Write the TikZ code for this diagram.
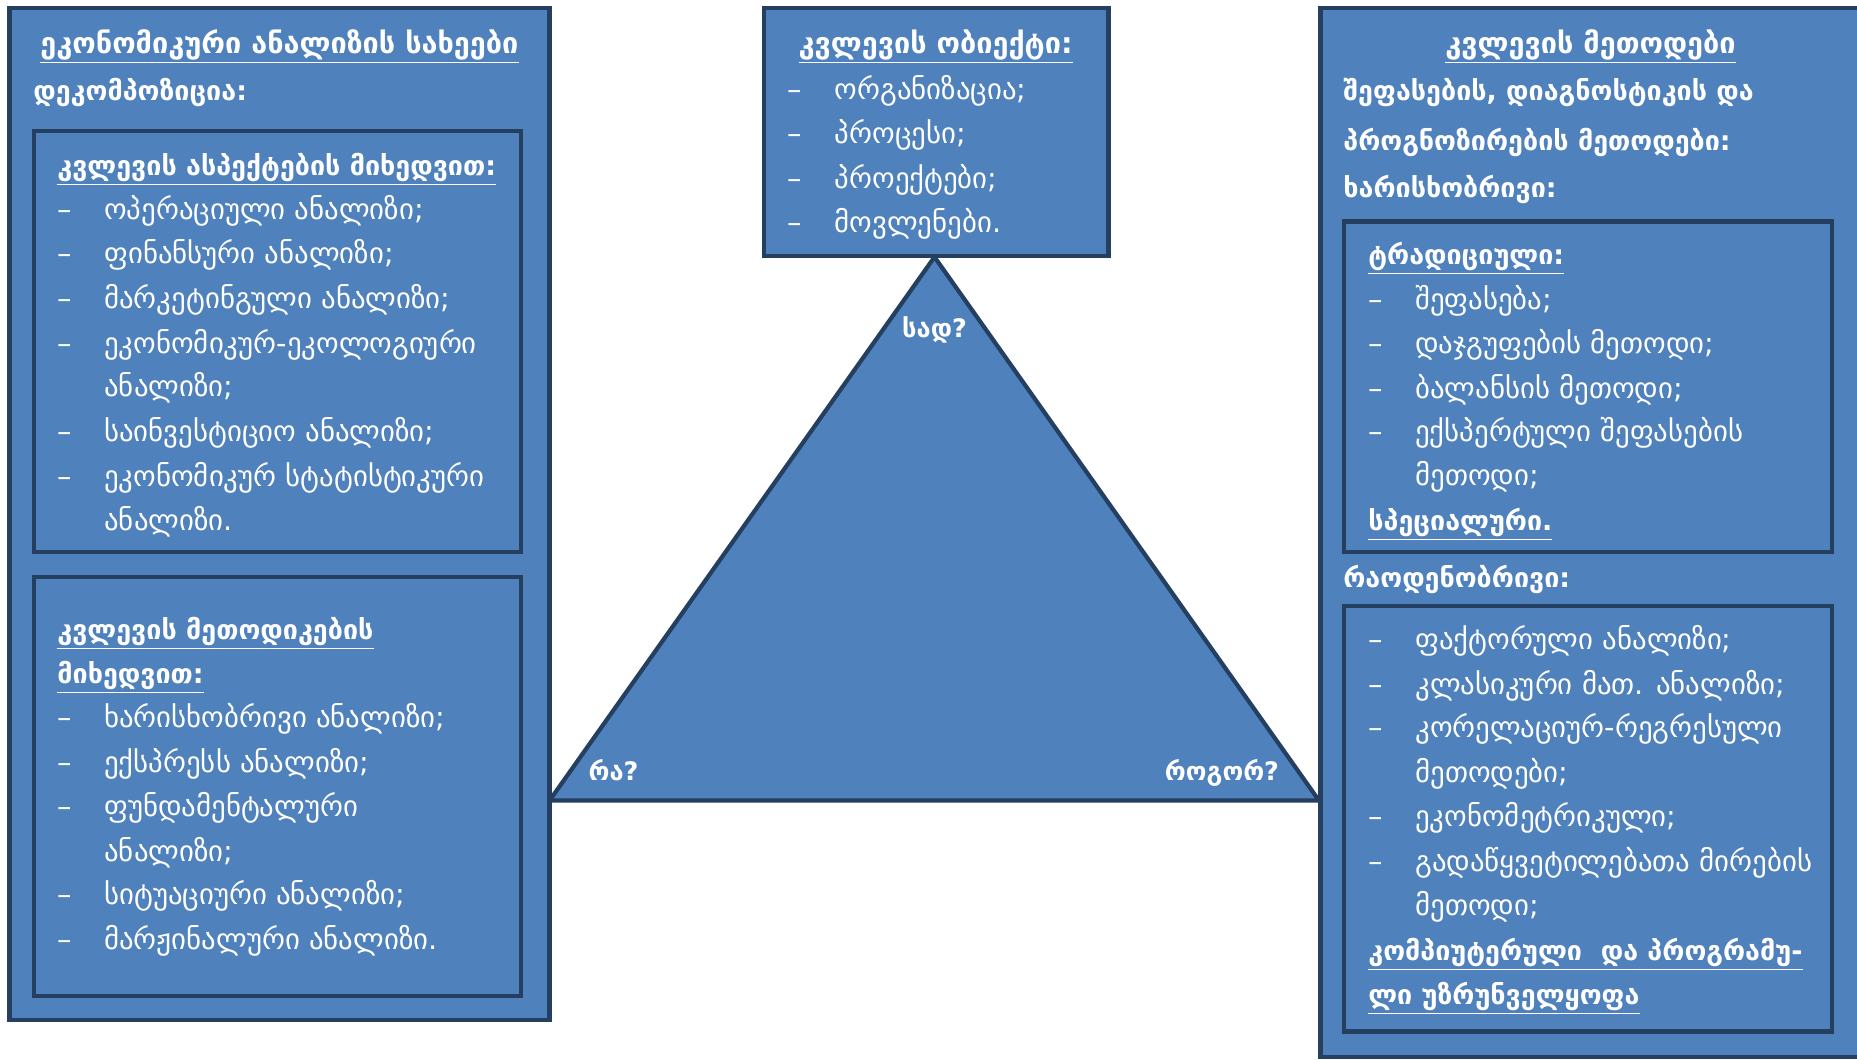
\documentclass[tikz,border=0pt]{standalone}
\usepackage{fontspec}
\setmainfont{DejaVu Sans}
\definecolor{boxfill}{HTML}{4F81BD}
\definecolor{boxline}{HTML}{243F60}
\newcommand{\dsh}{\makebox[0.94cm][l]{–}}

\begin{document}
\begin{tikzpicture}[x=0.02cm,y=-0.02cm,
  panel/.style={draw=boxline,fill=boxfill,line width=2.6pt},
  txt/.style={text=white,inner sep=0pt,anchor=west,text height=0.95em,text depth=0pt,font=\fontsize{16.4}{19}\selectfont},
  head/.style={txt,font=\fontsize{15.3}{18}\selectfont\bfseries},
  ctitle/.style={txt,anchor=center,font=\fontsize{16.4}{19}\selectfont\bfseries},
  corner/.style={txt,anchor=center,font=\fontsize{14.5}{17}\selectfont\bfseries}]
\useasboundingbox (0,0) rectangle (1857,1060);

% triangle
\coordinate (top) at (934.5,257);
\coordinate (bl) at (549.5,800.6);
\coordinate (br) at (1319,800.6);
\draw[panel,line width=2.4pt,line join=round] (top) -- (bl) -- (br) -- cycle;

% panels
\draw[panel] (9.5,8) rectangle (549.5,1020);
\draw[panel] (34,131) rectangle (521,552);
\draw[panel] (34,577) rectangle (521,996);
\draw[panel] (764,8) rectangle (1108.5,256);
\draw[panel] (1320.5,8) rectangle (1880,1057);
\draw[panel] (1344,221.5) rectangle (1832,552);
\draw[panel] (1344,606) rectangle (1832,1031.5);

% left panel
\node[ctitle] (ltitle) at (279.5,45) {\underline{ეკონომიკური ანალიზის სახეები}};
\node[head] (lsub) at (33,92) {დეკომპოზიცია:};
\node[head] (ahead) at (57,167) {\underline{კვლევის ასპექტების მიხედვით:}};
\node[txt] (a1) at (57,211) {\dsh ოპერაციული ანალიზი;};
\node[txt] (a2) at (57,255) {\dsh ფინანსური ანალიზი;};
\node[txt] (a3) at (57,300) {\dsh მარკეტინგული ანალიზი;};
\node[txt] (a4) at (57,345) {\dsh ეკონომიკურ-ეკოლოგიური};
\node[txt] (a4b) at (104,388) {ანალიზი;};
\node[txt] (a5) at (57,433.5) {\dsh საინვესტიციო ანალიზი;};
\node[txt] (a6) at (57,478.5) {\dsh ეკონომიკურ სტატისტიკური};
\node[txt] (a6b) at (104,522) {ანალიზი.};
\node[head] (mhead) at (57,631) {\underline{კვლევის მეთოდიკების}};
\node[head] (mheadb) at (57,675) {\underline{მიხედვით:}};
\node[txt] (m1) at (57,719) {\dsh ხარისხობრივი ანალიზი;};
\node[txt] (m2) at (57,764) {\dsh ექსპრესს ანალიზი;};
\node[txt] (m3) at (57,808) {\dsh ფუნდამენტალური};
\node[txt] (m3b) at (104,853) {ანალიზი;};
\node[txt] (m4) at (57,896.5) {\dsh სიტუაციური ანალიზი;};
\node[txt] (m5) at (57,941.5) {\dsh მარჟინალური ანალიზი.};

% object panel
\node[ctitle] (otitle) at (935.6,45) {\underline{კვლევის ობიექტი:}};
\node[txt] (o1) at (787.5,91) {\dsh ორგანიზაცია;};
\node[txt] (o2) at (787.5,135) {\dsh პროცესი;};
\node[txt] (o3) at (787.5,180) {\dsh პროექტები;};
\node[txt] (o4) at (787.5,224) {\dsh მოვლენები.};

% triangle corners
\node[corner] (where) at (934.5,329) {სად?};
\node[corner] (what) at (613.5,772) {რა?};
\node[corner] (how) at (1222,772) {როგორ?};

% right panel
\node[ctitle] (rtitle) at (1590.5,45) {\underline{კვლევის მეთოდები}};
\node[head] (r1) at (1343,92) {შეფასების, დიაგნოსტიკის და};
\node[head] (r2) at (1343,142) {პროგნოზირების მეთოდები:};
\node[head] (qual) at (1343,189.5) {ხარისხობრივი:};
\node[head] (thead) at (1368,256) {\underline{ტრადიციული:}};
\node[txt] (t1) at (1368,301) {\dsh შეფასება;};
\node[txt] (t2) at (1368,345) {\dsh დაჯგუფების მეთოდი;};
\node[txt] (t3) at (1368,390) {\dsh ბალანსის მეთოდი;};
\node[txt] (t4) at (1368,433.5) {\dsh ექსპერტული შეფასების};
\node[txt] (t4b) at (1415,477) {მეთოდი;};
\node[head] (spec) at (1368,522) {\underline{სპეციალური.}};
\node[head] (quant) at (1343,579) {რაოდენობრივი:};
\node[txt] (q1) at (1368,641) {\dsh ფაქტორული ანალიზი;};
\node[txt] (q2) at (1368,686) {\dsh კლასიკური მათ. ანალიზი;};
\node[txt] (q3) at (1368,729.5) {\dsh კორელაციურ-რეგრესული};
\node[txt] (q3b) at (1415,774.5) {მეთოდები;};
\node[txt] (q4) at (1368,818) {\dsh ეკონომეტრიკული;};
\node[txt] (q5) at (1368,863) {\dsh გადაწყვეტილებათა მირების};
\node[txt] (q5b) at (1415,907) {მეთოდი;};
\node[head] (soft) at (1368,952) {\underline{კომპიუტერული\ \ და პროგრამუ-}};
\node[head] (softb) at (1368,996) {\underline{ლი უზრუნველყოფა}};
\end{tikzpicture}
\end{document}
